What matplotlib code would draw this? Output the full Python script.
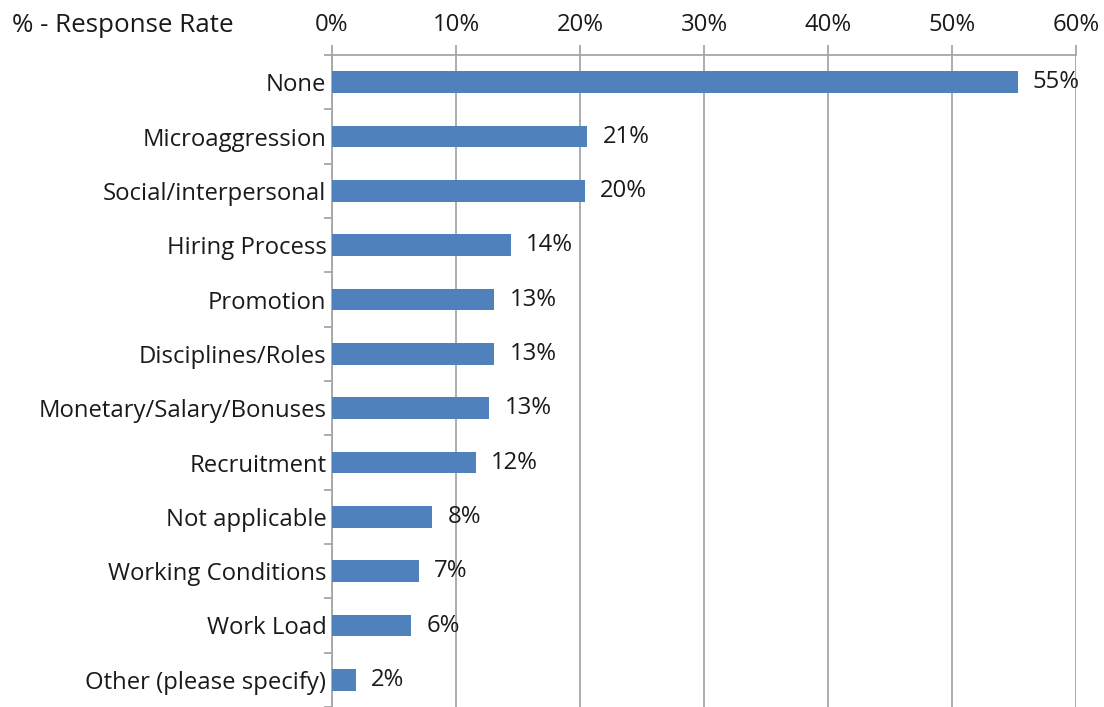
import matplotlib.pyplot as plt
import numpy as np
from matplotlib.ticker import FixedLocator

categories = [
    "None",
    "Microaggression",
    "Social/interpersonal",
    "Hiring Process",
    "Promotion",
    "Disciplines/Roles",
    "Monetary/Salary/Bonuses",
    "Recruitment",
    "Not applicable",
    "Working Conditions",
    "Work Load",
    "Other (please specify)",
]
response_rate = [55.3, 20.6, 20.4, 14.4, 13.1, 13.1, 12.7, 11.6, 8.1, 7.0, 6.4, 1.9]
x_ticks = [0, 10, 20, 30, 40, 50, 60]

plt.rcParams["font.family"] = ["Open Sans", "DejaVu Sans"]
bar_color = "#4F81BD"
grid_color = "#A6A6A6"
text_color = "#1A1A1A"
fs = 17.2

fig = plt.figure(figsize=(11.04, 7.07), dpi=100)
ax = fig.add_axes([332 / 1104, 0.0, 744 / 1104, 652 / 707])

y = np.arange(len(categories))
ax.barh(y, response_rate, height=0.4, color=bar_color, zorder=3)

for yi, v in zip(y, response_rate):
    ax.annotate(f"{v:.0f}%", (v, yi), xytext=(11, 0), textcoords="offset points",
                va="center", ha="left", fontsize=fs, color=text_color, zorder=4)

ax.set_xlim(0, 60)
ax.set_ylim(len(categories) - 0.5, -0.5)

ax.xaxis.tick_top()
ax.set_xticks(x_ticks)
ax.set_xticklabels([f"{t}%" for t in x_ticks], fontsize=fs, color=text_color)
ax.tick_params(axis="x", length=7, width=1.3, color=grid_color, pad=6)
ax.grid(axis="x", color=grid_color, linewidth=1.3, zorder=0)

ax.set_yticks(y)
ax.set_yticklabels(categories, fontsize=fs, color=text_color)
ax.yaxis.set_minor_locator(FixedLocator(np.arange(-0.5, len(categories), 1.0)))
ax.tick_params(axis="y", which="major", length=0, pad=4)
ax.tick_params(axis="y", which="minor", length=6, width=1.3, color=grid_color)

for side in ["right", "bottom"]:
    ax.spines[side].set_visible(False)
for side in ["top", "left"]:
    ax.spines[side].set_color(grid_color)
    ax.spines[side].set_linewidth(1.3)

fig.text(12 / 1104, 1 - 26 / 707, "% - Response Rate", fontsize=18.7,
         color=text_color, va="center", ha="left")

fig.savefig("out.png", dpi=100)
